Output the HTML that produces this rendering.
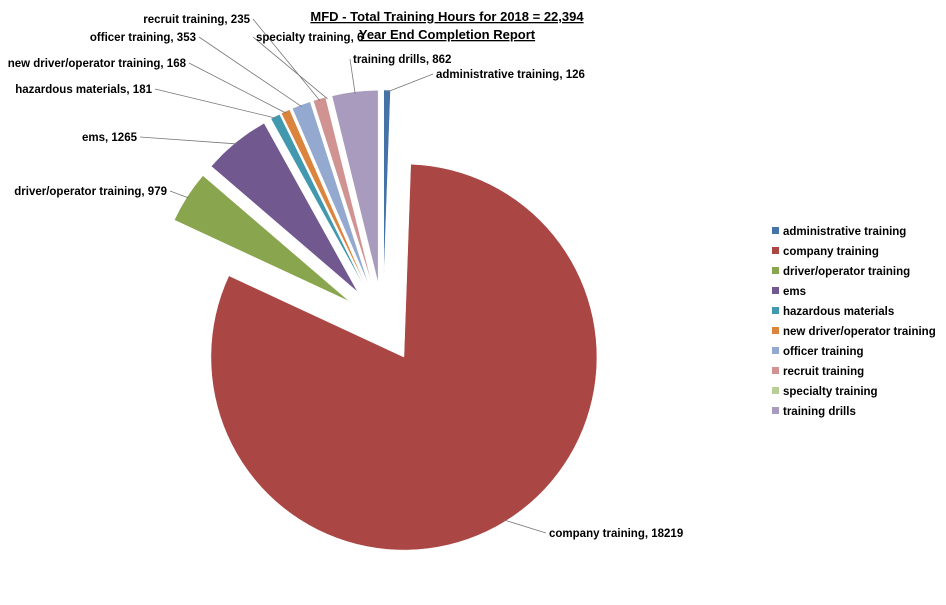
<!DOCTYPE html>
<html><head><meta charset="utf-8"><style>
html,body{margin:0;padding:0;background:#fff;}
svg text{font-family:"Liberation Sans",sans-serif;font-weight:bold;font-size:11.5px;fill:#000;}
</style></head><body>
<svg id="chart" width="946" height="600" xmlns="http://www.w3.org/2000/svg">
<text x="447" y="21" text-anchor="middle" style="font-size:13px;text-decoration:underline">MFD - Total Training Hours for 2018 = 22,394</text>
<text x="447" y="39" text-anchor="middle" style="font-size:13px;text-decoration:underline">Year End Completion Report</text>
<g id="slices"></g>
<g id="labels"></g>
<g id="legend"></g>
</svg>
<script>
const categories=["administrative training","company training","driver/operator training","ems","hazardous materials","new driver/operator training","officer training","recruit training","specialty training","training drills"];
const values=[126,18219,979,1265,181,168,353,235,6,862];
const colors=["#4572A7","#AA4643","#89A54E","#71588F","#4198AF","#DB843D","#93A9CF","#D19392","#B9CD96","#A99BBD"];
const labelAnchors=[[436,78,"start"],[549,537,"start"],[167,195,"end"],[137,141,"end"],[152,93,"end"],[186,67,"end"],[196,41,"end"],[250,23,"end"],[256,41,"start"],[353,63,"start"]];
const NS="http://www.w3.org/2000/svg";
const cx=383,cy=323,r=193,d=40;
const total=values.reduce((a,b)=>a+b,0);
const sl=document.getElementById('slices'),lb=document.getElementById('labels'),lg=document.getElementById('legend');
function pt(x,y,a,rr){return [x+rr*Math.sin(a),y-rr*Math.cos(a)];}
let acc=0;
values.forEach((v,i)=>{
  const a0=acc/total*2*Math.PI; acc+=v; const a1=acc/total*2*Math.PI;
  const am=(a0+a1)/2;
  const ox=cx+d*Math.sin(am), oy=cy-d*Math.cos(am);
  const p0=pt(ox,oy,a0,r),p1=pt(ox,oy,a1,r);
  const large=(a1-a0)>Math.PI?1:0;
  const path=document.createElementNS(NS,'path');
  path.setAttribute('d',`M${ox},${oy}L${p0[0]},${p0[1]}A${r},${r} 0 ${large} 1 ${p1[0]},${p1[1]}Z`);
  path.setAttribute('fill',colors[i]);
  path.setAttribute('stroke','#fff');
  path.setAttribute('stroke-width','0.5');
  
  
  sl.appendChild(path);
  const pm=pt(ox,oy,am,r-2);
  const la=labelAnchors[i];
  const lx=la[2]==="end"?la[0]+3:la[0]-3;
  const line=document.createElementNS(NS,'line');
  line.setAttribute('x1',pm[0]);line.setAttribute('y1',pm[1]);
  line.setAttribute('x2',lx);line.setAttribute('y2',la[1]-4);
  line.setAttribute('stroke','#777');line.setAttribute('stroke-width','0.8');
  
  
  lb.appendChild(line);
  const t=document.createElementNS(NS,'text');
  t.setAttribute('x',la[0]);t.setAttribute('y',la[1]);t.setAttribute('text-anchor',la[2]);
  t.textContent=categories[i]+", "+v;
  
  
  lb.appendChild(t);
  const rect=document.createElementNS(NS,'rect');
  rect.setAttribute('x',772);rect.setAttribute('y',227+i*20);rect.setAttribute('width',7);rect.setAttribute('height',7);
  rect.setAttribute('fill',colors[i]);
  
  
  lg.appendChild(rect);
  const lt=document.createElementNS(NS,'text');
  lt.setAttribute('x',783);lt.setAttribute('y',235+i*20);
  lt.textContent=categories[i];
  
  
  lg.appendChild(lt);
});
</script>
</body></html>
